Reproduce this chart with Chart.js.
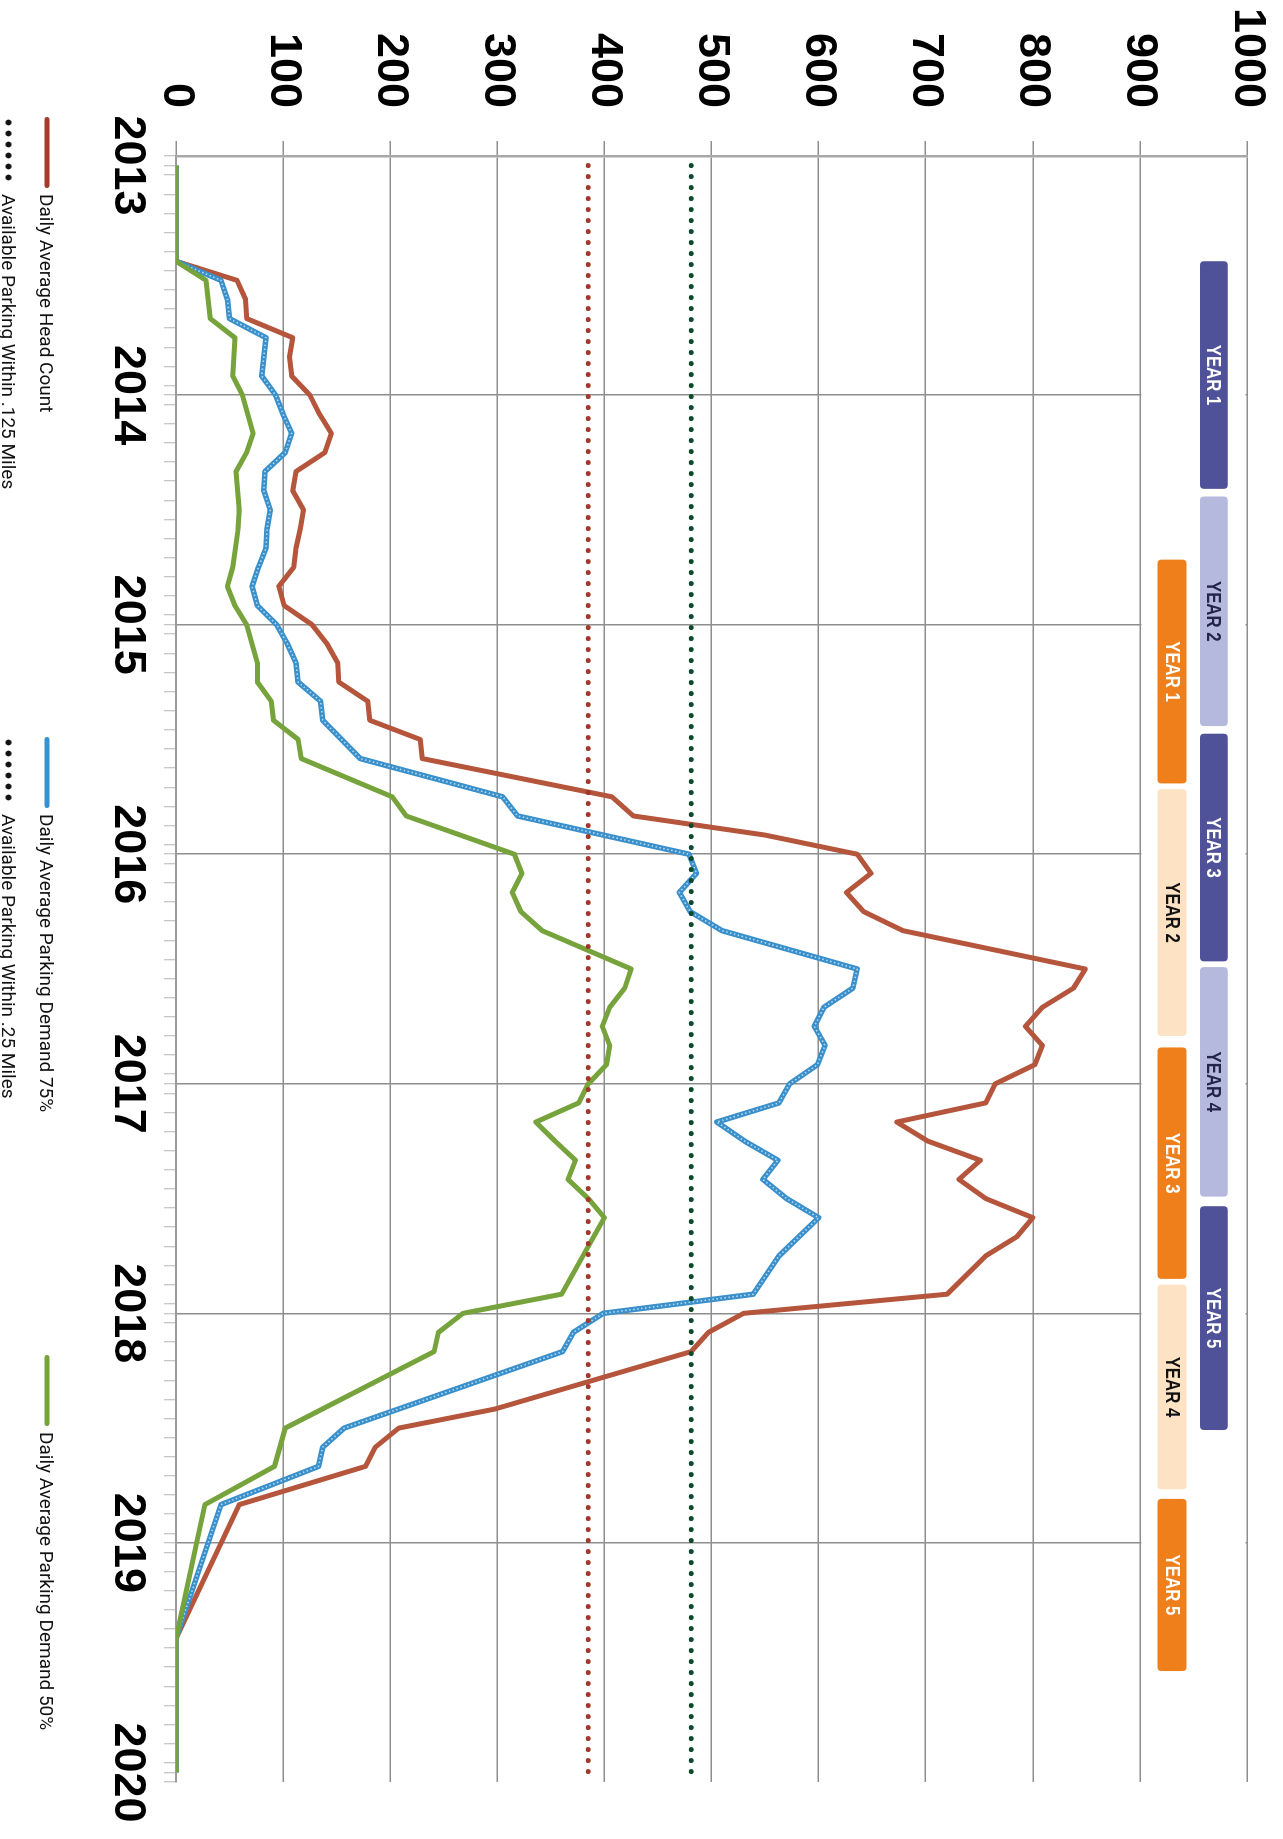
<!DOCTYPE html>
<html>
<head>
<meta charset="utf-8">
<title>Daily Average Head Count and Parking Demand</title>
<script src="https://cdn.jsdelivr.net/npm/chart.js@4.4.1/dist/chart.umd.min.js"></script>
<style>
  html, body { margin: 0; padding: 0; background: #fff; overflow: hidden; }
  body { width: 1283px; height: 1839px; position: relative; }
  /* the chart is drawn landscape and turned a quarter turn clockwise */
  #frame {
    position: absolute; left: 0; top: 0; width: 1839px; height: 1283px;
    transform-origin: 0 0; transform: translateX(1283px) rotate(90deg);
  }
  #chart { position: absolute; left: 0; top: 0; }
  .legend-item {
    position: absolute; display: flex; align-items: center; white-space: nowrap;
    font-family: Roboto, "Liberation Sans", sans-serif; font-size: 19px; color: #111;
    transform: translateY(-50%);
  }
  .swatch { width: 71px; height: 5px; border-radius: 3px; margin-right: 6px; }
  .dots {
    width: 66px; height: 8px; margin-right: 11px;
    background-image: radial-gradient(circle, #111 2.6px, rgba(0,0,0,0) 3.3px);
    background-size: 11px 8px;
  }
</style>
</head>
<body>
<div id="frame">
  <canvas id="chart" width="1839" height="1283"></canvas>
</div>
<script>
// months counted from Jan 2013 (index 0) to Jan 2020 (index 84); null = no vertex
const years = [2013, 2014, 2015, 2016, 2017, 2018, 2019, 2020];
const valueTicks = [0, 100, 200, 300, 400, 500, 600, 700, 800, 900, 1000];

const headCount = [
  0, null, null, null, null, 0, 57, 65, 66, 109, 106, 108,
  125, 134, 145, 139, 112, 109, 119, 116, 112, 110, 96, 101,
  127, 141, 151, 152, 179, 181, 228, 230, null, 407, 427, 550,
  636, 649, 626, 642, 679, null, 849, 838, 809, 793, 809, 802,
  765, 756, 673, 702, 751, 731, 756, 800, 785, 756, null, 720,
  530, 497, 481, null, null, 298, 208, 186, 177, null, 59, null,
  null, null, null, null, null, 0, null, null, null, null, null, null,
  0
];

const demand75 = [
  0, null, null, null, null, 0, 42, 48, 50, 84, null, 80,
  93, 100, 108, 102, 83, 82, 88, 85, 84, 77, 71, 76,
  94, 104, 112, 114, 135, 137, null, 172, null, 305, 319, null,
  479, 486, 470, 480, 510, null, 636, 632, 605, 596, 606, 599,
  573, 563, 505, 531, 562, 548, 570, 600, null, 563, null, 539,
  399, 371, 361, null, null, null, 157, 137, 133, null, 42, null,
  null, null, null, null, null, 0, null, null, null, null, null, null,
  0
];

const demand50 = [
  0, null, null, null, null, 0, 28, null, 32, 55, null, 53,
  62, null, 72, 66, 56, null, 59, 58, null, 53, 48, 55,
  66, null, 76, 76, 89, 91, 114, 117, null, 202, 215, null,
  316, 323, 314, 322, 342, null, 425, 419, 405, 398, 405, 402,
  385, 376, 336, 354, 373, 366, 385, 400, 390, null, null, 360,
  268, 245, 241, null, null, null, 102, null, 92, null, 27, null,
  null, null, null, null, null, 0, null, null, null, null, null, null,
  0
];

// available parking: within .125 miles, within .25 miles
const parkingLabels = ["Available Parking Within .125 Miles", "Available Parking Within .25 Miles"];
const parkingValues = [385, 481];
const parkingSpan = [0, 84];

// phase bars (month index start / end)
const phaseLabels = ["YEAR 1", "YEAR 2", "YEAR 3", "YEAR 4", "YEAR 5"];
const purpleStart = [5.0, 17.3, 29.7, 41.9, 54.4];
const purpleEnd = [16.9, 29.3, 41.6, 53.9, 66.1];
const orangeStart = [20.6, 32.6, 46.1, 58.5, 69.7];
const orangeEnd = [32.3, 45.5, 58.2, 69.2, 78.7];

const toPoints = (vals) => vals.map((v, i) => ({ x: i, y: v }));
const flat = (v) => parkingSpan.map((m) => ({ x: m, y: v }));

const RED = "#b4553c";
const BLUE = "#3a90cb";
const GREEN = "#76a33b";
const GRID = "#8e8e8e";

const phaseBars = {
  id: "phaseBars",
  beforeDatasetsDraw(chart, args, opts) {
    const { ctx, chartArea, scales: { x, y } } = chart;
    ctx.save();
    // white panel behind the phase bars hides the year grid lines
    const pTop = y.getPixelForValue(opts.panel[1]) + 1.5;
    const pBot = y.getPixelForValue(opts.panel[0]) - 1.5;
    ctx.fillStyle = "#fff";
    ctx.fillRect(chartArea.left + 2, pTop, chartArea.right - chartArea.left - 2, pBot - pTop);

    opts.rows.forEach((row) => {
      row.starts.forEach((s, i) => {
        const x0 = x.getPixelForValue(s);
        const x1 = x.getPixelForValue(row.ends[i]);
        const y0 = y.getPixelForValue(row.center + row.half);
        const y1 = y.getPixelForValue(row.center - row.half);
        ctx.fillStyle = row.fills[i % 2];
        ctx.beginPath();
        ctx.roundRect(x0, y0, x1 - x0, y1 - y0, 4);
        ctx.fill();
        ctx.save();
        ctx.translate((x0 + x1) / 2, (y0 + y1) / 2 + 1);
        ctx.scale(0.84, 1);
        ctx.fillStyle = row.text[i % 2];
        ctx.font = "bold 20px 'Liberation Sans', Arial, sans-serif";
        ctx.textAlign = "center";
        ctx.textBaseline = "middle";
        ctx.fillText(phaseLabels[i], 0, 0);
        ctx.restore();
      });
    });
    ctx.restore();
  }
};

const tickFont = { family: "'Liberation Sans', Arial, sans-serif", size: 45, weight: "bold" };

new Chart(document.getElementById("chart"), {
  type: "line",
  data: {
    datasets: [
      {
        label: parkingLabels[0], data: flat(parkingValues[0]), order: 0,
        borderColor: "#a3382a", borderWidth: 5, borderDash: [0, 11], borderCapStyle: "round"
      },
      {
        label: parkingLabels[1], data: flat(parkingValues[1]), order: 1,
        borderColor: "#0d4a2b", borderWidth: 5, borderDash: [0, 11], borderCapStyle: "round"
      },
      {
        label: "Daily Average Parking Demand 50%", data: toPoints(demand50), order: 2,
        borderColor: GREEN, borderWidth: 5
      },
      {
        label: "Daily Average Parking Demand 75%", data: toPoints(demand75), order: 3,
        borderColor: "rgba(205,232,250,0.85)", borderWidth: 1.6, borderDash: [1.5, 2.5]
      },
      {
        label: "Daily Average Parking Demand 75%", data: toPoints(demand75), order: 4,
        borderColor: BLUE, borderWidth: 5.5
      },
      {
        label: "Daily Average Head Count", data: toPoints(headCount), order: 5,
        borderColor: RED, borderWidth: 5
      }
    ]
  },
  options: {
    responsive: false,
    animation: false,
    spanGaps: true,
    layout: { padding: { left: 0, right: 57, top: 36, bottom: 0 } },
    elements: {
      point: { radius: 0, hoverRadius: 0 },
      line: { tension: 0, borderJoinStyle: "round", fill: false }
    },
    plugins: {
      legend: { display: false },
      tooltip: { enabled: false },
      phaseBars: {
        panel: [900, 1000],
        rows: [
          { starts: purpleStart, ends: purpleEnd, center: 969, half: 13,
            fills: ["#4f5298", "#b5b9de"], text: ["#ffffff", "#23254a"] },
          { starts: orangeStart, ends: orangeEnd, center: 930, half: 13.5,
            fills: ["#ef7f1b", "#fde3c3"], text: ["#ffffff", "#111111"] }
        ]
      }
    },
    scales: {
      x: {
        type: "linear",
        min: -0.5,
        max: 84.5,
        afterFit: (scale) => { scale.height = 176; },
        afterBuildTicks: (scale) => {
          const t = [];
          for (let m = -0.5; m <= 84.5; m += 1) t.push({ value: m });
          years.forEach((yr, i) => t.push({ value: i * 12 }));
          t.sort((a, b) => a.value - b.value);
          scale.ticks = t;
        },
        ticks: {
          autoSkip: false,
          maxRotation: 0,
          padding: 10,
          color: "#000",
          font: tickFont,
          callback: (v) => (Number.isInteger(v) && v % 12 === 0 ? String(years[v / 12]) : "")
        },
        grid: {
          lineWidth: 1.5,
          tickLength: 12,
          tickWidth: 1,
          tickColor: "#b4b4b4",
          color: (c) => {
            const v = c.tick ? c.tick.value : 0;
            return Number.isInteger(v) && v % 12 === 0 && v > 0 && v < 84 ? GRID : "rgba(0,0,0,0)";
          }
        },
        border: { display: true, color: "#9a9a9a", width: 2 }
      },
      y: {
        min: 0,
        max: 1000,
        afterFit: (scale) => {
          scale.width = 156;
          scale.paddingTop = 0;
          scale.paddingBottom = 0;
        },
        afterBuildTicks: (scale) => { scale.ticks = valueTicks.map((v) => ({ value: v })); },
        ticks: { padding: 33, color: "#000", font: tickFont, callback: (v) => String(v) },
        grid: { color: GRID, lineWidth: 1.5, tickLength: 15 },
        border: { display: true, color: "#a8a8a8", width: 2.5 }
      }
    }
  },
  plugins: [phaseBars]
});

// legend, laid out in two rows under the time axis
const legendItems = [
  { text: "Daily Average Head Count", kind: "line", color: "#a33b2a", left: 117, top: 1236 },
  { text: "Daily Average Parking Demand 75%", kind: "line", color: BLUE, left: 737, top: 1236 },
  { text: "Daily Average Parking Demand 50%", kind: "line", color: GREEN, left: 1355, top: 1236 },
  { text: parkingLabels[0], kind: "dots", left: 117, top: 1274 },
  { text: parkingLabels[1], kind: "dots", left: 737, top: 1274 }
];
const frame = document.getElementById("frame");
legendItems.forEach((it) => {
  const row = document.createElement("div");
  row.className = "legend-item";
  row.style.left = it.left + "px";
  row.style.top = it.top + "px";
  const mark = document.createElement("span");
  if (it.kind === "line") {
    mark.className = "swatch";
    mark.style.background = it.color;
  } else {
    mark.className = "dots";
  }
  const label = document.createElement("span");
  label.textContent = it.text;
  row.appendChild(mark);
  row.appendChild(label);
  frame.appendChild(row);
});
</script>
</body>
</html>
